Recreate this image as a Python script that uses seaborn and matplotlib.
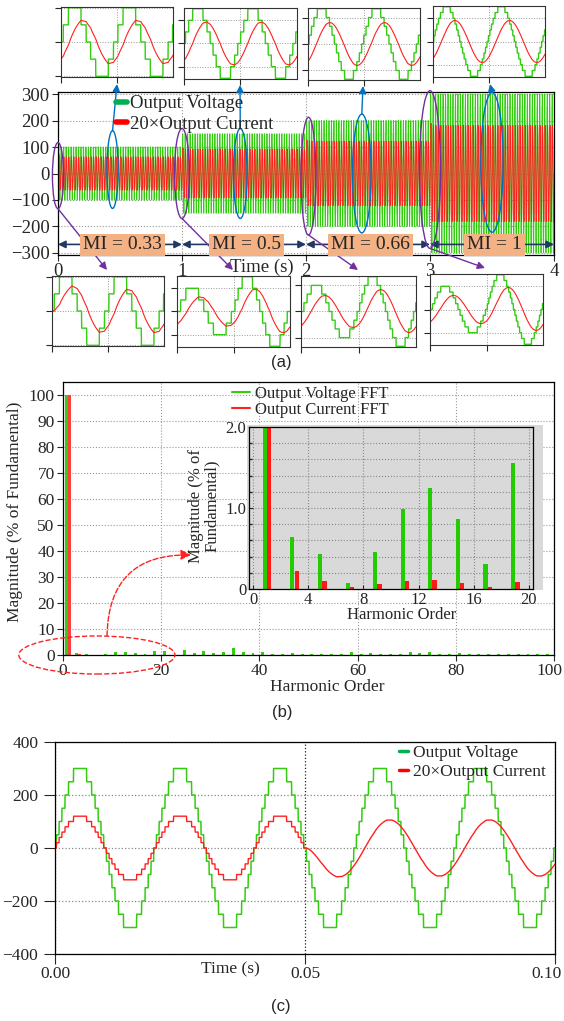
import numpy as np
import matplotlib
matplotlib.use("Agg")
import matplotlib.pyplot as plt
import matplotlib.transforms as mtransforms
import seaborn as sns
from matplotlib.patches import Ellipse, Rectangle
from matplotlib.lines import Line2D
from matplotlib.ticker import MultipleLocator

# ---------------- values ----------------
# (a) four one-second segments at different modulation index
seg_start = [0, 1, 2, 3]
mi_labels = ["MI = 0.33", "MI = 0.5", "MI = 0.66", "MI = 1"]
v_peak_a = [100, 150, 200, 300]      # staircase peak voltage per segment
i_gain_a = 0.6                       # 20×I peak / V peak
i_lag_a = 55                         # current lag behind voltage (deg)
v_step = 50                          # one staircase level (V)
f_out = 50                           # output frequency (Hz)

# small zoom insets of (a): window start (s), y-limit, y-tick
top_zoom_start = [0.44, 1.46, 2.44, 3.48]
bot_zoom_start = [0.0, 0.9795, 1.9795, 2.9795]
zoom_len = 0.041
zoom_ylim = [102, 153, 204, 306]
zoom_ytick = [100, 100, 150, 200]

# (b) FFT, odd harmonics 1..99, % of fundamental
harmonics = [1, 3, 5, 7, 9, 11, 13, 15, 17, 19, 21, 23, 25, 27, 29, 31, 33, 35, 37, 39,
             41, 43, 45, 47, 49, 51, 53, 55, 57, 59, 61, 63, 65, 67, 69, 71, 73, 75, 77, 79,
             81, 83, 85, 87, 89, 91, 93, 95, 97, 99]
v_fft = [100, 0.64, 0.43, 0.07, 0.46, 0.99, 1.25, 0.86, 0.31, 1.56, 1.55, 0.1, 1.9, 0.6, 1.4,
         0.8, 1.15, 2.8, 1.1, 0.8, 1.1, 0.5, 0.2, 0.6, 0.3, 0.2, 0.3, 0.2, 0.4, 1.1,
         0.3, 0.9, 0.4, 0.3, 0.3, 1.0, 0.9, 1.0, 0.3, 0.3, 0.8, 0.2, 0.5, 0.2, 0.3,
         0.3, 0.4, 0.4, 0.3, 0.3]
i_fft = [100, 0.22, 0.1, 0.02, 0.06, 0.1, 0.11, 0.07, 0.03, 0.09, 0.06, 0.01, 0.05, 0.02, 0.03,
         0.02, 0.03, 0.05, 0.02, 0.02, 0.02, 0.01, 0.01, 0.01, 0.01, 0.01, 0.01, 0.01, 0.01, 0.02,
         0.01, 0.01, 0.01, 0.01, 0.01, 0.01, 0.01, 0.01, 0.01, 0.01, 0.01, 0.01, 0.01, 0.01, 0.01,
         0.01, 0.01, 0.01, 0.01, 0.01]

# (c) resistive load, then R-L load from 0.05 s
v_peak_c = 300
i_gain_c_res = 0.4
i_gain_c = 0.35
i_lag_c = 35
t_switch_c = 0.05

GREEN = "#33cc11"
RED = "#ff2020"
PURPLE = "#7030a0"
BLUE = "#0070c0"
NAVY = "#1f3864"
ORANGE = "#f4b183"

FIG_W, FIG_H = 564, 1021


def box(x0, x1, y0, y1):
    return [x0 / FIG_W, 1 - y1 / FIG_H, (x1 - x0) / FIG_W, (y1 - y0) / FIG_H]


def fxy(x, y):
    return (x / FIG_W, 1 - y / FIG_H)


def nudge_last_xlabel(ax, px):
    # keep the last tick label inside the picture
    lab = ax.get_xticklabels()[-1]
    lab.set_transform(lab.get_transform()
                      + mtransforms.ScaledTranslation(px / 100, 0, fig.dpi_scale_trans))


# ---------------- waveforms ----------------
w = 2 * np.pi * f_out
dt = 2e-5


def rl_current(v, gain, lag_deg, i0=0.0):
    tau = np.tan(np.radians(lag_deg)) / w
    k = gain / np.cos(np.radians(lag_deg))
    a = np.exp(-dt / tau)
    out = []
    i = i0
    for vn in v.tolist():
        out.append(i)
        i = a * i + (1 - a) * k * vn
    return np.array(out)


t_a = np.arange(0, 4 + dt / 2, dt)
seg = np.clip(np.floor(t_a + 1e-9).astype(int), 0, 3)
v_a = v_step * np.round(np.array(v_peak_a)[seg] * np.sin(w * t_a) / v_step)
i_a = rl_current(v_a, i_gain_a, i_lag_a)

t_c = np.arange(0, 0.1 + dt / 2, dt)
v_c = v_step * np.round(v_peak_c * np.sin(w * t_c) / v_step)
i_c = i_gain_c_res * v_c
after = t_c >= t_switch_c
i_c[after] = rl_current(v_c[after], i_gain_c, i_lag_c)

# ---------------- figure ----------------
sns.set_theme(style="ticks")
plt.rcParams["font.family"] = ["Liberation Serif", "DejaVu Serif"]
plt.rcParams["axes.edgecolor"] = "black"
plt.rcParams["axes.linewidth"] = 0.9

fig = plt.figure(figsize=(FIG_W / 100, FIG_H / 100), dpi=100)

# ---- (a) main time plot ----
ax_a = fig.add_axes(box(58, 554, 92, 255))
sns.lineplot(x=t_a[::3], y=v_a[::3], color=GREEN, linewidth=0.6, estimator=None, sort=False, ax=ax_a)
sns.lineplot(x=t_a[::3], y=i_a[::3], color=RED, linewidth=0.6, estimator=None, sort=False, ax=ax_a)
ax_a.set_xlim(0, 4)
ax_a.set_ylim(-308, 308)
ax_a.set_xticks([0, 1, 2, 3, 4])
ax_a.set_yticks([-300, -200, -100, 0, 100, 200, 300])
ax_a.grid(True, ls=":", color="#999999", lw=0.8)
ax_a.tick_params(labelsize=13.5, length=4, width=0.8, pad=2)
ax_a.set_xlabel("")
ax_a.set_ylabel("")
fig.text(*fxy(262, 267), "Time (s)", ha="center", va="center", fontsize=13.5)

ax_a.legend(handles=[Line2D([], [], color="#00b050", lw=4), Line2D([], [], color="#ff0000", lw=4)],
            labels=["Output Voltage", "20×Output Current"], loc="upper left",
            bbox_to_anchor=fxy(116, 95), bbox_transform=fig.transFigure, frameon=False,
            fontsize=13.5, handlelength=0.6, handletextpad=0.15, borderpad=0, borderaxespad=0,
            labelspacing=0.2)

# MI segments: double arrows and orange labels
for s, lab in zip(seg_start, mi_labels):
    ax_a.annotate("", xy=(s, -268), xytext=(s + 1, -268),
                  arrowprops=dict(arrowstyle="<|-|>", color=NAVY, lw=1.2, shrinkA=0, shrinkB=0,
                                  mutation_scale=11), annotation_clip=False)
    ax_a.text(s + 0.52, -270, lab, ha="center", va="center", fontsize=14, zorder=6,
              bbox=dict(boxstyle="square,pad=0.15", fc=ORANGE, ec="none"))

# ellipses and arrows to the zoom insets
purple_ell = [(0.0, -8, 0.09, 250), (1.0, 0, 0.12, 340), (2.02, -10, 0.12, 445), (3.0, 15, 0.17, 596)]
blue_ell = [(0.44, 15, 0.09, 294), (1.47, 0, 0.11, 340), (2.45, 0, 0.15, 449), (3.5, 42, 0.18, 528)]
purple_end = [(107, 270), (233, 270), (358, 270), (485, 268)]
blue_end = [(117, 84), (240, 85), (363, 86), (490, 84)]
for (x, y, ww, hh), end in zip(purple_ell, purple_end):
    ax_a.add_patch(Ellipse((x, y), ww, hh, fill=False, ec=PURPLE, lw=1.0, clip_on=False, zorder=5))
    ax_a.annotate("", xy=fxy(*end), xycoords="figure fraction", xytext=(x, y - hh / 2),
                  textcoords="data", annotation_clip=False,
                  arrowprops=dict(arrowstyle="-|>", color=PURPLE, lw=1.0, shrinkA=0, shrinkB=0,
                                  mutation_scale=11))
for (x, y, ww, hh), end in zip(blue_ell, blue_end):
    ax_a.add_patch(Ellipse((x, y), ww, hh, fill=False, ec=BLUE, lw=1.0, clip_on=False, zorder=5))
    ax_a.annotate("", xy=fxy(*end), xycoords="figure fraction", xytext=(x, y + hh / 2),
                  textcoords="data", annotation_clip=False,
                  arrowprops=dict(arrowstyle="-|>", color=BLUE, lw=1.0, shrinkA=0, shrinkB=0,
                                  mutation_scale=11))


def zoom_axes(px_box, t0, ylim, ytick):
    ax = fig.add_axes(box(*px_box))
    m = (t_a >= t0 - dt) & (t_a <= t0 + zoom_len + dt)
    sns.lineplot(x=t_a[m], y=v_a[m], color=GREEN, linewidth=1.0, estimator=None, sort=False, ax=ax)
    sns.lineplot(x=t_a[m], y=i_a[m], color=RED, linewidth=0.8, estimator=None, sort=False, ax=ax)
    ax.set_xlim(t0, t0 + zoom_len)
    ax.set_ylim(-ylim, ylim)
    ax.set_yticks([-ytick, 0, ytick])
    ax.set_xticks([t0, t0 + zoom_len / 2])
    ax.set_xticklabels([])
    ax.set_yticklabels([])
    ax.set_xlabel("")
    ax.set_ylabel("")
    ax.grid(True, ls=":", color="#999999", lw=0.7)
    ax.tick_params(length=4, width=0.8, direction="out")
    for sp in ax.spines.values():
        sp.set_color("#333333")
        sp.set_linewidth(0.8)
    return ax


top_boxes = [(61, 173, 7, 77), (184, 297, 8, 79), (308, 420, 8, 80), (433, 545, 6, 77)]
bot_boxes = [(52, 164, 276, 346), (177, 290, 276, 347), (301, 416, 276, 347), (430, 543, 274, 345)]
for k in range(4):
    zoom_axes(top_boxes[k], top_zoom_start[k], zoom_ylim[k], zoom_ytick[k])
    zoom_axes(bot_boxes[k], bot_zoom_start[k], zoom_ylim[k], zoom_ytick[k])

fig.text(*fxy(281, 362), "(a)", ha="center", va="center", fontsize=12, family="Liberation Sans")

# ---- (b) FFT ----
ax_b = fig.add_axes(box(63, 554, 382, 655))
h = np.array(harmonics)
sns.barplot(x=h - 0.3, y=v_fft, native_scale=True, orient="x", width=0.3, color=GREEN,
            saturation=1, linewidth=0, errorbar=None, ax=ax_b)
sns.barplot(x=h + 0.3, y=i_fft, native_scale=True, orient="x", width=0.3, color="#ff4040",
            saturation=1, linewidth=0, errorbar=None, ax=ax_b)
ax_b.set_xlim(0, 100)
ax_b.set_ylim(0, 104.8)
ax_b.set_xticks([0, 20, 40, 60, 80, 100])
ax_b.set_xticklabels(["0", "20", "40", "60", "80", "100"])
ax_b.set_yticks(range(0, 101, 10))
ax_b.grid(True, ls=":", color="#999999", lw=0.8)
ax_b.tick_params(labelsize=12.5, length=4, width=0.8, pad=2)
ax_b.set_xlabel("")
ax_b.set_ylabel("")
nudge_last_xlabel(ax_b, -5)
fig.text(*fxy(327, 687), "Harmonic Order", ha="center", va="center", fontsize=12.5)
fig.text(*fxy(15.5, 512), "Magnitude (% of Fundamental)", ha="center", va="center",
         rotation=90, fontsize=12.5)
ax_b.legend(handles=[Line2D([], [], color=GREEN, lw=1.5), Line2D([], [], color=RED, lw=1.5)],
            labels=["Output Voltage FFT", "Output Current FFT"], loc="upper left",
            bbox_to_anchor=fxy(232, 386), bbox_transform=fig.transFigure, frameon=False,
            fontsize=12, handlelength=1.1, handletextpad=0.3, borderpad=0, borderaxespad=0,
            labelspacing=0.0)

# dashed ellipse and curved arrow to the inset
ax_b.add_patch(Ellipse((6.9, 0), 31.8, 14.6, fill=False, ec=RED, lw=1.0, ls="--",
                       clip_on=False, zorder=5))
ax_b.annotate("", xy=fxy(191, 555), xycoords="figure fraction", xytext=(8.96, 7.3),
              textcoords="data", annotation_clip=False,
              arrowprops=dict(arrowstyle="-|>", connectionstyle="arc3,rad=-0.5", color=RED,
                              lw=1.0, ls="--", shrinkA=0, shrinkB=0, mutation_scale=15))

# inset with the low-order harmonics
fig.add_artist(Rectangle(fxy(247, 590), 296 / FIG_W, 165 / FIG_H, transform=fig.transFigure,
                         fc="#d9d9d9", ec="none", zorder=1))
ax_in = fig.add_axes(box(249, 533, 427, 589))
ax_in.set_zorder(2)
ax_in.set_facecolor("#d9d9d9")
sns.barplot(x=h - 0.15, y=v_fft, native_scale=True, orient="x", width=0.15, color="#22cc00",
            saturation=1, linewidth=0, errorbar=None, ax=ax_in)
sns.barplot(x=h + 0.17, y=i_fft, native_scale=True, orient="x", width=0.16, color="#ff1a1a",
            saturation=1, linewidth=0, errorbar=None, ax=ax_in)
ax_in.set_xlim(-0.3, 20.3)
ax_in.set_ylim(0, 2.0)
ax_in.set_xticks([0, 4, 8, 12, 16, 20])
ax_in.set_xticklabels(["0", "4", "8", "12", "16", "20"])
ax_in.set_yticks([0, 1.0, 2.0])
ax_in.set_yticklabels(["0", "1.0", "2.0"])
ax_in.yaxis.set_minor_locator(MultipleLocator(0.2))
ax_in.grid(True, which="major", ls=":", color="#888888", lw=0.8)
ax_in.yaxis.grid(True, which="minor", ls=":", color="#888888", lw=0.8)
ax_in.tick_params(labelsize=12, length=3, width=0.8, pad=2, direction="in")
ax_in.tick_params(which="minor", length=2, direction="in")
ax_in.set_xlabel("")
ax_in.set_ylabel("")
fig.text(*fxy(402, 615), "Harmonic Order", ha="center", va="center", fontsize=12)
fig.text(*fxy(204, 506), "Magnitude (% of\nFundamental)", ha="center", va="center",
         rotation=90, fontsize=12, linespacing=1.0)

fig.text(*fxy(282, 712), "(b)", ha="center", va="center", fontsize=12, family="Liberation Sans")

# ---- (c) one switching event ----
ax_c = fig.add_axes(box(55, 555, 742, 954))
sns.lineplot(x=t_c, y=v_c, color=GREEN, linewidth=1.1, estimator=None, sort=False, ax=ax_c)
sns.lineplot(x=t_c, y=i_c, color=RED, linewidth=1.0, estimator=None, sort=False, ax=ax_c)
ax_c.set_xlim(0, 0.1)
ax_c.set_ylim(-400, 400)
ax_c.set_xticks([0, 0.05, 0.1])
ax_c.set_xticklabels(["0.00", "0.05", "0.10"])
ax_c.set_yticks([-400, -200, 0, 200, 400])
ax_c.yaxis.grid(True, ls=":", color="#888888", lw=0.9)
ax_c.xaxis.grid(True, ls=":", color="#222222", lw=0.9)
ax_c.tick_params(labelsize=12.5, width=0.8)
ax_c.tick_params(axis="y", length=8, pad=4)
ax_c.tick_params(axis="x", length=7, pad=2)
ax_c.set_xlabel("")
ax_c.set_ylabel("")
nudge_last_xlabel(ax_c, -9)
fig.text(*fxy(230, 969), "Time (s)", ha="center", va="center", fontsize=12.5)
ax_c.legend(handles=[Line2D([], [], color="#00b050", lw=2.5), Line2D([], [], color="#ff0000", lw=2.5)],
            labels=["Output Voltage", "20×Output Current"], loc="upper left",
            bbox_to_anchor=fxy(399, 745), bbox_transform=fig.transFigure, frameon=False,
            fontsize=12.5, handlelength=0.5, handletextpad=0.3, borderpad=0, borderaxespad=0,
            labelspacing=0.15)

fig.text(*fxy(281, 1006), "(c)", ha="center", va="center", fontsize=12, family="Liberation Sans")

fig.savefig("out.png", dpi=100)
